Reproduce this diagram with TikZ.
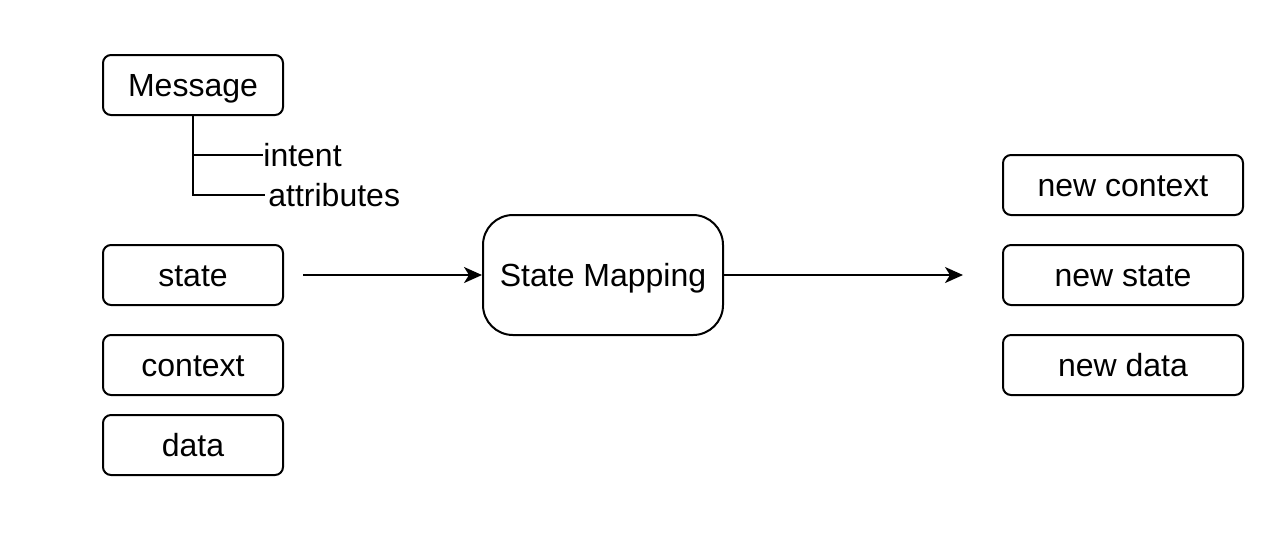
\documentclass[tikz,border=0pt]{standalone}
\usepackage{fontspec}
\setmainfont{Liberation Sans}
\usetikzlibrary{arrows.meta}
\tikzset{
  box/.style={draw, line width=1pt, rounded corners=4pt, minimum width=90pt, minimum height=30pt, inner sep=0pt, text height=14.5pt, text depth=3.4pt},
  bigbox/.style={draw, line width=1pt, rounded corners=15pt, minimum width=120pt, minimum height=60pt, inner sep=0pt, text height=14.5pt, text depth=3.4pt},
  lbl/.style={anchor=west, inner sep=0pt, text height=14.5pt, text depth=3.4pt},
  flow/.style={line width=1pt, -{Stealth[length=9pt, width=8pt, inset=2.5pt]}}
}
\begin{document}
\begin{tikzpicture}[x=0.5pt, y=-0.5pt, font=\fontsize{16}{19}\selectfont]
\useasboundingbox (0,0) rectangle (1288,532);

%inputs
\node[box] (msg) at (193,85) {Message};
\node[lbl] (intent) at (263,155) {intent};
\node[lbl] (attr) at (268,195) {attributes};
\draw[line width=1pt] (msg.south) |- (intent.west);
\draw[line width=1pt] (msg.south) |- ([xshift=-1.5pt]attr.west);
\node[box] (state) at (193,275) {state};
\node[box] (ctx) at (193,365) {context};
\node[box] (data) at (193,445) {data};

%mapping
\node[bigbox] (map) at (603,275) {State Mapping};
\coordinate (in) at (303,275);
\coordinate (out) at (963,275);
\draw[flow] (in) -- (map.west);
\draw[flow] (map.east) -- (out);

%outputs
\node[box, minimum width=120pt] (newctx) at (1123,185) {new context};
\node[box, minimum width=120pt] (newstate) at (1123,275) {new state};
\node[box, minimum width=120pt] (newdata) at (1123,365) {new data};

\end{tikzpicture}
\end{document}
